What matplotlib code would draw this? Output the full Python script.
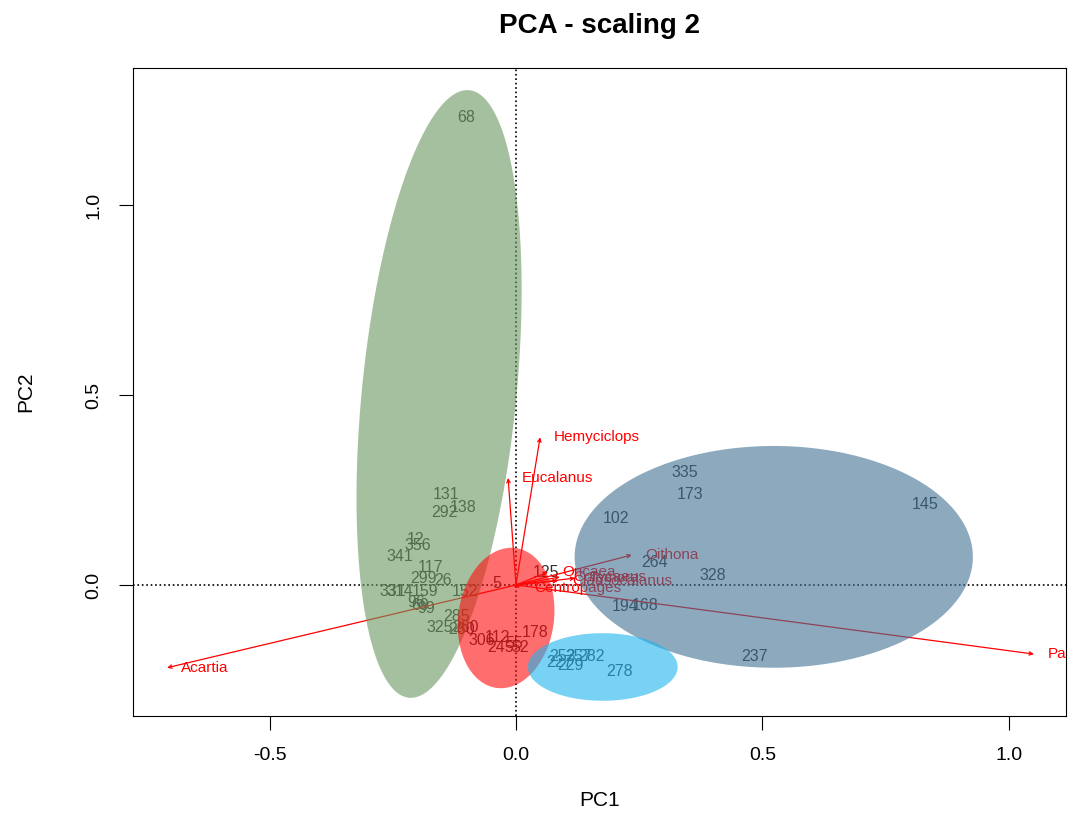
import numpy as np
import matplotlib.pyplot as plt
from matplotlib.patches import Polygon

plt.rcParams['font.family'] = ['Liberation Sans', 'DejaVu Sans']
plt.rcParams['axes.unicode_minus'] = False

# site scores (PC1, PC2)
sites = ["68", "131", "138", "292", "12", "356", "341", "117", "299", "26",
         "331", "314", "159", "96", "69", "99", "325", "285", "260", "280",
         "5", "152", "125", "306", "112", "178", "245", "55", "52",
         "335", "173", "102", "145", "264", "328", "194", "168", "237",
         "253", "257", "282", "229", "227", "278"]
site_pc1 = [-0.101, -0.142, -0.108, -0.146, -0.203, -0.199, -0.235, -0.174, -0.187, -0.148,
            -0.249, -0.235, -0.185, -0.203, -0.195, -0.183, -0.154, -0.120, -0.103, -0.110,
            -0.039, -0.103, 0.061, -0.069, -0.037, 0.039, -0.032, -0.004, 0.008,
            0.343, 0.353, 0.203, 0.830, 0.282, 0.400, 0.221, 0.262, 0.483,
            0.095, 0.126, 0.154, 0.110, 0.089, 0.211]
site_pc2 = [1.232, 0.237, 0.205, 0.192, 0.121, 0.105, 0.074, 0.045, 0.016, 0.013,
            -0.018, -0.018, -0.018, -0.045, -0.053, -0.061, -0.111, -0.084, -0.111, -0.118,
            0.005, -0.016, 0.034, -0.147, -0.139, -0.126, -0.166, -0.153, -0.166,
            0.295, 0.237, 0.176, 0.213, 0.058, 0.024, -0.058, -0.055, -0.189,
            -0.189, -0.189, -0.189, -0.211, -0.205, -0.229]

# species scores
species = ["Hemyciclops", "Eucalanus", "Acartia", "Paracalanus", "Oithona",
           "Oncaea", "Corycaeus", "Clausocalanus", "Temora", "Centropages"]
sp_pc1 = [0.049, -0.016, -0.708, 1.051, 0.235, 0.065, 0.089, 0.085, 0.120, 0.008]
sp_pc2 = [0.389, 0.282, -0.218, -0.182, 0.079, 0.034, 0.021, 0.011, 0.018, -0.008]

# group ellipses: centre and two conjugate semi-axes
ell_centre = [(-0.156, 0.503), (0.523, 0.074), (-0.020, -0.087), (0.176, -0.216)]
ell_axis1 = [(0.061, 0.800), (0.404, 0.0), (0.020, 0.184), (0.152, 0.0)]
ell_axis2 = [(0.156, -0.019), (0.0, 0.292), (0.096, -0.018), (0.0, 0.089)]
ell_col = ["#69965f", "#3f7193", "#ff0d0d", "#1eb4ee"]

fig = plt.figure(figsize=(10.7, 8.19), dpi=100)
ax = fig.add_axes([0.1243, 0.1258, 0.872, 0.791])

ax.axhline(0, color='black', ls=':', lw=1.2, zorder=1)
ax.axvline(0, color='black', ls=':', lw=1.2, zorder=1)

for s, x, y in zip(sites, site_pc1, site_pc2):
    ax.text(x, y, s, fontsize=11.5, color='#333333', ha='center', va='center', zorder=2)

for s, x, y in zip(species, sp_pc1, sp_pc2):
    ax.annotate("", xy=(x, y), xytext=(0, 0),
                arrowprops=dict(arrowstyle='->,head_length=0.25,head_width=0.12',
                                color='red', lw=0.9, shrinkA=0, shrinkB=0), zorder=2)
    ax.annotate(s, xy=(x, y), xytext=(10, 0), textcoords='offset points',
                fontsize=11, color='red', ha='left', va='center', zorder=2,
                annotation_clip=False, clip_on=True)

t = np.linspace(0, 2 * np.pi, 200)
for c, u, v, col in zip(ell_centre, ell_axis1, ell_axis2, ell_col):
    px = c[0] + np.cos(t) * u[0] + np.sin(t) * v[0]
    py = c[1] + np.cos(t) * u[1] + np.sin(t) * v[1]
    ax.add_patch(Polygon(np.column_stack([px, py]), closed=True, facecolor=col,
                         edgecolor='none', alpha=0.6, zorder=3))

ax.set_xlim(-0.777, 1.116)
ax.set_ylim(-0.345, 1.361)
ax.set_xticks([-0.5, 0.0, 0.5, 1.0])
ax.set_yticks([0.0, 0.5, 1.0])
ax.tick_params(labelsize=14, length=10, pad=12)
for lab in ax.get_yticklabels():
    lab.set_rotation(90)
    lab.set_va('center')
ax.set_xlabel("PC1", fontsize=15, labelpad=20)
ax.set_ylabel("PC2", fontsize=15, labelpad=36)
ax.set_title("PCA - scaling 2", fontsize=20, fontweight='bold', pad=25)

fig.savefig("out.png", dpi=100)
